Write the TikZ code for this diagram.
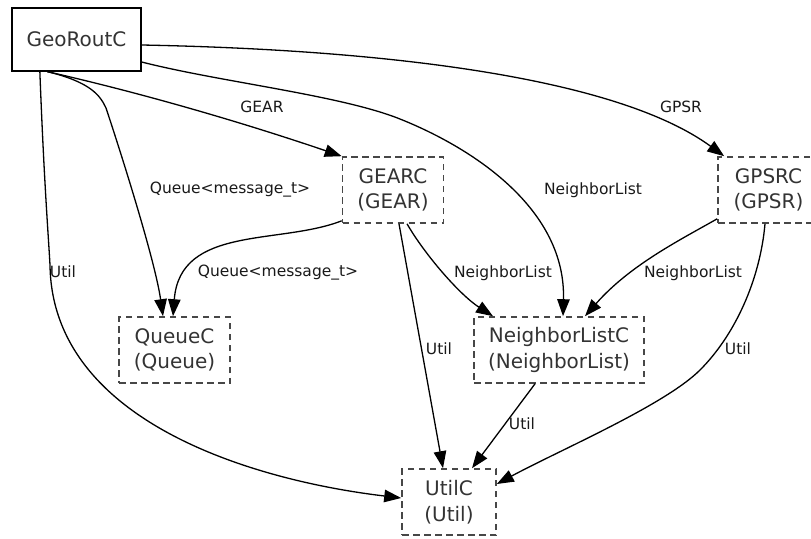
\documentclass[tikz,border=0pt]{standalone}
\usepackage{fontspec}
\setmainfont{DejaVu Sans}
\usetikzlibrary{arrows.meta}
\begin{document}
\begin{tikzpicture}[x=1pt,y=-1pt,
  topbox/.style={draw=black, line width=1.3pt, text=black!80, inner sep=0pt,
    font=\fontsize{20}{25.5}\selectfont, minimum width=129pt, minimum height=63pt},
  comp/.style={draw=black!72, dash pattern=on 6.5pt off 4.5pt, line width=1.6pt,
    text=black!80, font=\fontsize{20}{25.5}\selectfont, align=center,
    inner sep=0pt, minimum height=66pt},
  dep/.style={-{Triangle[length=17pt,width=12.5pt]}, line width=1.3pt},
  lbl/.style={font=\fontsize{15.5}{18}\selectfont, inner sep=0pt, text=black!90}
]
\useasboundingbox (0,0) rectangle (811,538);

% components
\node[topbox] (geo) at (76.5,39.5) {GeoRoutC};
\node[comp, minimum width=101pt] (gear) at (393,190) {GEARC\\(GEAR)};
\node[comp, minimum width=101pt] (gpsr) at (768.5,190) {GPSRC\\(GPSR)};
\node[comp, minimum width=111pt] (queue) at (174.5,350) {QueueC\\(Queue)};
\node[comp, minimum width=170pt] (nbr) at (559,350) {NeighborListC\\(NeighborList)};
\node[comp, minimum width=94pt] (util) at (449,502) {UtilC\\(Util)};

% wiring from GeoRoutC
\draw[dep] ([xshift=36pt]geo.south west) .. controls (150,95) and (250,125) .. (gear.north west);
\draw[dep] ([yshift=-5.5pt]geo.east) .. controls (400,50) and (620,80) .. ([xshift=7pt]gpsr.north west);
\draw[dep] ([yshift=-22.5pt]geo.east) .. controls (220,82) and (340,95) .. (400,119)
  .. controls (475,149) and (566,210) .. ([xshift=4pt]nbr.north);
\draw[dep] ([xshift=36pt]geo.south west) .. controls (90,82) and (100,95) .. (106,108)
  .. controls (120,150) and (155,260) .. ([xshift=-11.5pt]queue.north);
\draw[dep] ([xshift=28.5pt]geo.south west) .. controls (44,180) and (48,230) .. (50,265)
  .. controls (52,420) and (250,480) .. ([yshift=4pt]util.west);

% wiring from GEARC
\draw[dep] ([yshift=3pt]gear.south west) .. controls (280,245) and (180,225) .. ([xshift=-1.5pt]queue.north);
\draw[dep] ([xshift=14pt]gear.south) .. controls (425,255) and (460,295) .. ([xshift=-66pt]nbr.north);
\draw[dep] ([xshift=6pt]gear.south) -- ([xshift=-6pt]util.north);

% wiring from GPSRC
\draw[dep] ([yshift=5pt]gpsr.south west) .. controls (680,240) and (630,265) .. ([xshift=26pt]nbr.north);
\draw[dep] ([xshift=-3.5pt]gpsr.south) .. controls (760,280) and (735,335) .. (700,370)
  .. controls (665,405) and (560,450) .. ([yshift=18pt]util.east);

% wiring from NeighborListC
\draw[dep] ([xshift=-24pt]nbr.south) -- ([xshift=23pt]util.north);

% interface labels
\node[lbl] (lGear) at (262,107) {GEAR};
\node[lbl] (lGpsr) at (681,107) {GPSR};
\node[lbl] (lNbrA) at (593,190) {NeighborList};
\node[lbl] (lQueA) at (230,190) {Queue<message\_t>};
\node[lbl] (lUtlA) at (63,272) {Util};
\node[lbl] (lQueB) at (278,273) {Queue<message\_t>};
\node[lbl] (lNbrB) at (503,273) {NeighborList};
\node[lbl] (lNbrC) at (693,273) {NeighborList};
\node[lbl] (lUtlB) at (439,349) {Util};
\node[lbl] (lUtlC) at (738,349) {Util};
\node[lbl] (lUtlD) at (522,424) {Util};
\end{tikzpicture}
\end{document}
